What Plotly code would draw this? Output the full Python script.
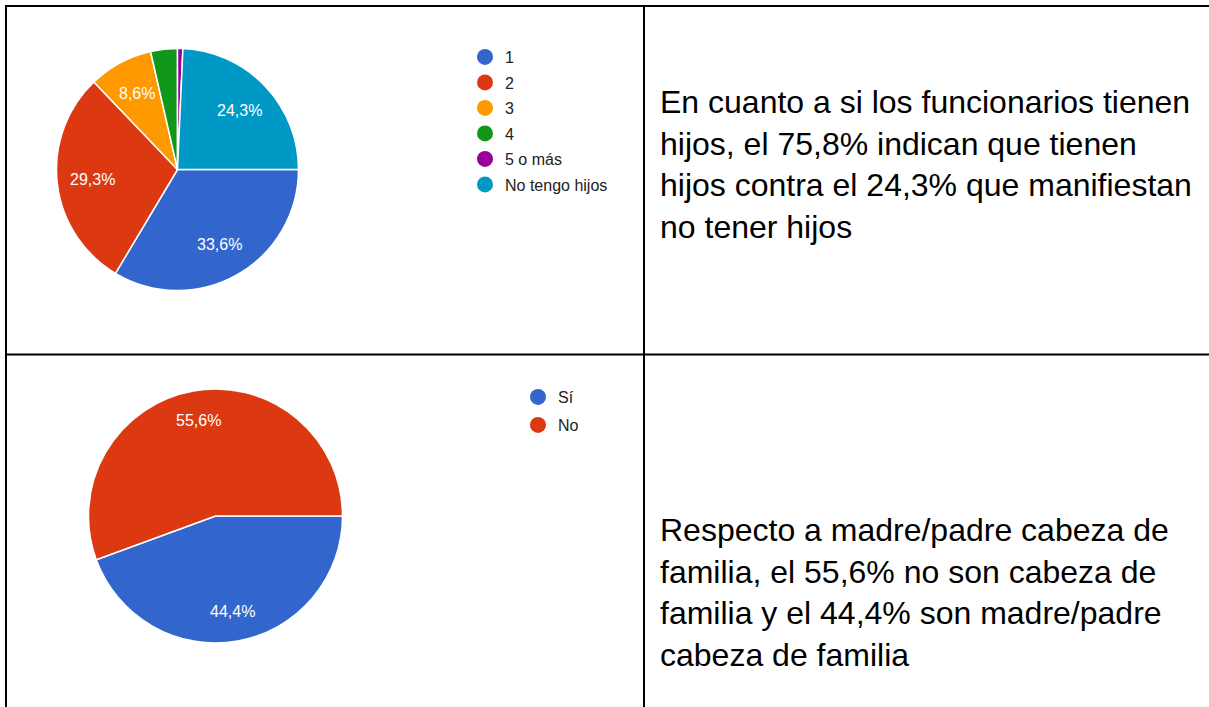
import math
import plotly.graph_objects as go

W, H = 1209, 707

# ---- data -------------------------------------------------------------
hijos_labels = ["1", "2", "3", "4", "5 o más", "No tengo hijos"]
hijos_counts = [47, 41, 12, 5, 1, 34]
hijos_colors = ["#3366cc", "#dc3912", "#ff9900", "#109618", "#990099", "#0099c6"]
hijos_show = [True, True, True, False, False, True]

cabeza_labels = ["Sí", "No"]
cabeza_values = [44.4, 55.6]
cabeza_colors = ["#3366cc", "#dc3912"]

texto_hijos = [
    "En cuanto a si los funcionarios tienen",
    "hijos, el 75,8% indican que tienen",
    "hijos contra el 24,3% que manifiestan",
    "no tener hijos",
]
texto_cabeza = [
    "Respecto a madre/padre cabeza de",
    "familia, el 55,6% no son cabeza de",
    "familia y el 44,4% son madre/padre",
    "cabeza de familia",
]


def px_x(x):
    return x / W


def px_y(y):
    return 1 - y / H


FONT = "Liberation Sans, Arial, sans-serif"
START = 90  # first slice starts at 3 o'clock, slices run clockwise

fig = go.Figure()


def add_pie(labels, values, colors, show, cx, cy, r, label_r):
    """Pie centred at (cx, cy) px with radius r px; percent labels are
    placed on each slice's bisector at label_r * r from the centre."""
    fig.add_trace(go.Pie(
        labels=labels,
        values=values,
        sort=False,
        direction="clockwise",
        rotation=START,
        marker=dict(colors=colors, line=dict(color="white", width=1.5)),
        textinfo="none",
        domain=dict(x=[px_x(cx - r), px_x(cx + r)],
                    y=[px_y(cy + r), px_y(cy - r)]),
        showlegend=False,
        hoverinfo="label+percent",
    ))
    total = float(sum(values))
    acc = 0.0
    anns = []
    for v, s in zip(values, show):
        frac = v / total
        mid = math.radians(START + 360 * (acc + frac / 2))
        acc += frac
        if not s:
            continue
        x = cx + label_r * r * math.sin(mid)
        y = cy - label_r * r * math.cos(mid)
        txt = f"{100 * frac:.1f}%".replace(".", ",")
        anns.append(dict(
            text=txt, x=px_x(x), y=px_y(y), xref="paper", yref="paper",
            showarrow=False, xanchor="center", yanchor="middle",
            font=dict(family=FONT, size=16, color="white"),
        ))
    return anns


pie_labels = []
pie_labels += add_pie(hijos_labels, hijos_counts, hijos_colors, hijos_show,
                      177.5, 169.5, 121, 0.71)
pie_labels += add_pie(cabeza_labels, cabeza_values, cabeza_colors, [True, True],
                      215.5, 516, 127, 0.76)

# ---- round legend markers ---------------------------------------------
for i, (lab, col) in enumerate(zip(hijos_labels, hijos_colors)):
    fig.add_trace(go.Scatter(
        x=[None], y=[None], mode="markers", name=lab,
        marker=dict(color=col, size=16, symbol="circle"),
        legend="legend", legendgroup=f"h{i}", hoverinfo="skip",
    ))
for i, (lab, col) in enumerate(zip(cabeza_labels, cabeza_colors)):
    fig.add_trace(go.Scatter(
        x=[None], y=[None], mode="markers", name=lab,
        marker=dict(color=col, size=16, symbol="circle"),
        legend="legend2", legendgroup=f"c{i}", hoverinfo="skip",
    ))

# ---- table grid -------------------------------------------------------
line = dict(color="black", width=2)
shapes = [
    dict(type="line", x0=px_x(5), x1=1, y0=px_y(6), y1=px_y(6)),
    dict(type="line", x0=px_x(6), x1=px_x(6), y0=px_y(5), y1=0),
    dict(type="line", x0=px_x(644), x1=px_x(644), y0=px_y(5), y1=0),
    dict(type="line", x0=px_x(5), x1=1, y0=px_y(354.5), y1=px_y(354.5)),
]
for s in shapes:
    s.update(xref="paper", yref="paper", line=line)

annotations = [
    dict(text="<br>".join(texto_hijos), x=px_x(658), y=px_y(165),
         xanchor="left", yanchor="middle", align="left"),
    dict(text="<br>".join(texto_cabeza), x=px_x(658), y=px_y(592),
         xanchor="left", yanchor="middle", align="left"),
]
for a in annotations:
    a.update(xref="paper", yref="paper", showarrow=False,
             font=dict(family=FONT, size=32, color="black"))

legend_common = dict(
    xanchor="left", yanchor="top", bgcolor="rgba(0,0,0,0)",
    font=dict(family=FONT, size=16, color="#222222"),
    itemclick=False, itemdoubleclick=False,
)

fig.update_layout(
    width=W, height=H,
    margin=dict(l=0, r=0, t=0, b=0),
    paper_bgcolor="white", plot_bgcolor="white",
    xaxis=dict(visible=False), yaxis=dict(visible=False),
    shapes=shapes,
    annotations=annotations + pie_labels,
    legend=dict(x=px_x(465), y=px_y(40), tracegroupgap=1.7, **legend_common),
    legend2=dict(x=px_x(518), y=px_y(380), tracegroupgap=4.2, **legend_common),
)

fig.write_html("out.html")
